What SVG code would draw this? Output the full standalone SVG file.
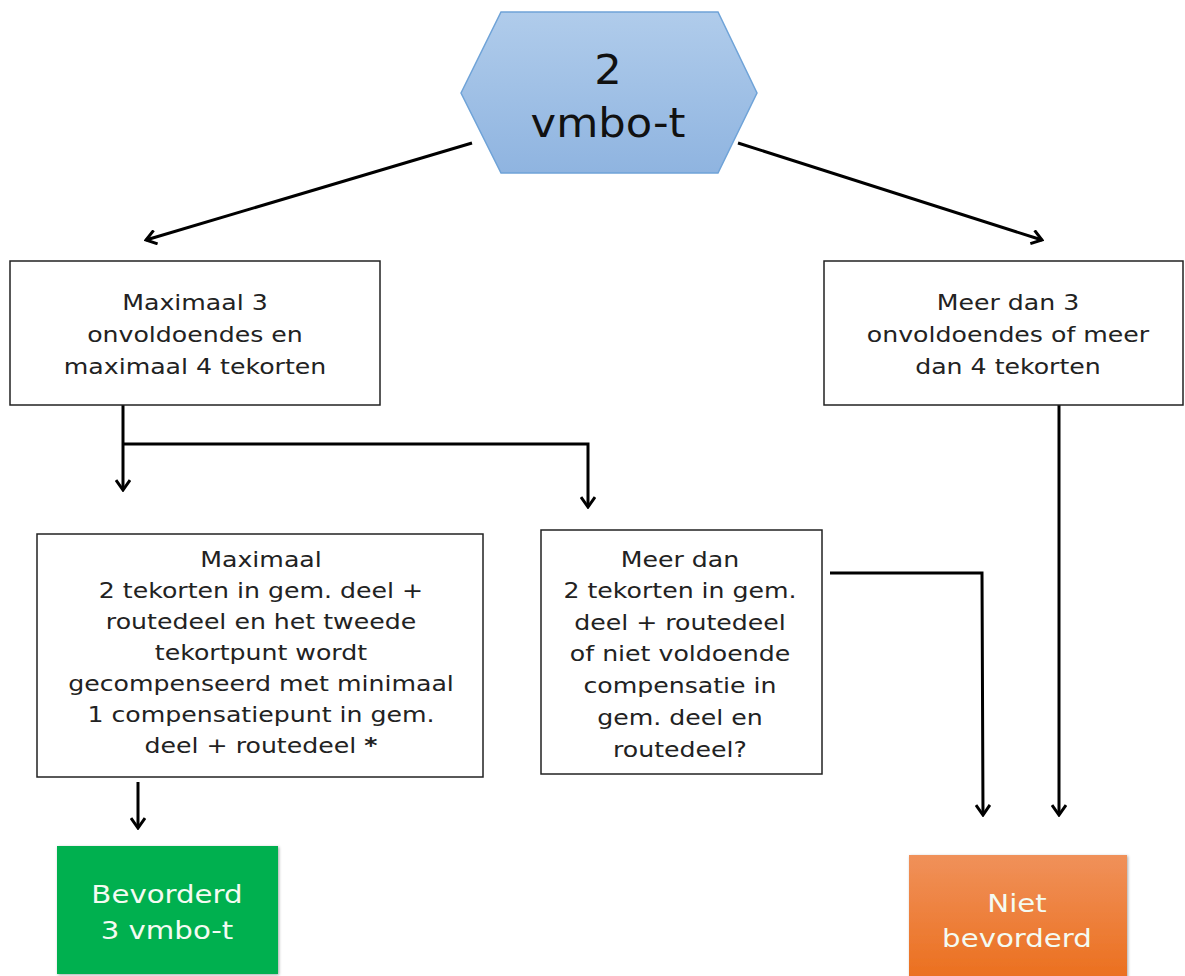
<svg xmlns="http://www.w3.org/2000/svg" width="1185" height="976" viewBox="0 0 1185 976">
<defs>
<linearGradient id="gHex" x1="0" y1="0" x2="0" y2="1">
<stop offset="0" stop-color="#b0cceb"/>
<stop offset="1" stop-color="#8fb4e0"/>
</linearGradient>
<linearGradient id="gOrange" x1="0" y1="0" x2="0" y2="1">
<stop offset="0" stop-color="#f0915a"/>
<stop offset="1" stop-color="#eb6f1e"/>
</linearGradient>
<filter id="sh" x="-10%" y="-10%" width="120%" height="120%">
<feDropShadow dx="1" dy="1" stdDeviation="1.5" flood-color="#000" flood-opacity="0.35"/>
</filter>
<marker id="arr" viewBox="-12 -8 14 16" markerWidth="14" markerHeight="16" refX="0" refY="0" orient="auto" markerUnits="userSpaceOnUse">
<path d="M-10,-7 L0,0 L-10,7" fill="none" stroke="#000" stroke-width="3" stroke-linejoin="miter"/>
</marker>
<style>
.box{fill:#fff;stroke:#222;stroke-width:1.5}
.t{font-family:"DejaVu Sans","Verdana",sans-serif;font-size:21px;fill:#222;text-anchor:middle}
.tw{font-family:"DejaVu Sans","Verdana",sans-serif;font-size:25px;fill:#f4fbf2;text-anchor:middle}
.th{font-family:"DejaVu Sans","Verdana",sans-serif;font-size:40px;fill:#111;text-anchor:middle}
.c{fill:none;stroke:#000;stroke-width:3}
</style>
</defs>
<rect width="1185" height="976" fill="#fff"/>

<g id="connectors">
<line class="c" x1="472" y1="143" x2="146" y2="240" marker-end="url(#arr)"/>
<line class="c" x1="738" y1="143" x2="1042" y2="240" marker-end="url(#arr)"/>
<line class="c" x1="123" y1="405" x2="123" y2="490" marker-end="url(#arr)"/>
<polyline class="c" points="123,444 588,444 588,507" marker-end="url(#arr)"/>
<line class="c" x1="138" y1="782" x2="138" y2="828" marker-end="url(#arr)"/>
<polyline class="c" points="830,573 982,573 983,815" marker-end="url(#arr)"/>
<line class="c" x1="1059" y1="405" x2="1059" y2="815" marker-end="url(#arr)"/>
</g>

<g id="start">
<polygon points="461,93 501,12 718,12 757,93 718,173 501,173" fill="url(#gHex)" stroke="#6fa3d8" stroke-width="1.5"/>
<g transform="translate(608,0) scale(1.08,1)">
<text class="th" x="0" y="84">2</text>
<text class="th" x="0" y="137">vmbo-t</text>
</g>
</g>

<g id="box1">
<rect class="box" x="10" y="261" width="370" height="144"/>
<g transform="translate(195,0) scale(1.2,1)">
<text class="t" x="0" y="310">Maximaal 3</text>
<text class="t" x="0" y="342">onvoldoendes en</text>
<text class="t" x="0" y="374">maximaal 4 tekorten</text>
</g>
</g>

<g id="box2">
<rect class="box" x="824" y="261" width="359" height="144"/>
<g transform="translate(1008,0) scale(1.2,1)">
<text class="t" x="0" y="310">Meer dan 3</text>
<text class="t" x="0" y="342">onvoldoendes of meer</text>
<text class="t" x="0" y="374">dan 4 tekorten</text>
</g>
</g>

<g id="box3">
<rect class="box" x="37" y="534" width="446" height="243"/>
<g transform="translate(261,0) scale(1.2,1)">
<text class="t" x="0" y="567">Maximaal</text>
<text class="t" x="0" y="598">2 tekorten in gem. deel +</text>
<text class="t" x="0" y="629">routedeel en het tweede</text>
<text class="t" x="0" y="660">tekortpunt wordt</text>
<text class="t" x="0" y="691">gecompenseerd met minimaal</text>
<text class="t" x="0" y="722">1 compensatiepunt in gem.</text>
<text class="t" x="0" y="753">deel + routedeel <tspan font-weight="bold">*</tspan></text>
</g>
</g>

<g id="box4">
<rect class="box" x="541" y="530" width="281" height="244"/>
<g transform="translate(680,0) scale(1.2,1)">
<text class="t" x="0" y="567">Meer dan</text>
<text class="t" x="0" y="598">2 tekorten in gem.</text>
<text class="t" x="0" y="630">deel + routedeel</text>
<text class="t" x="0" y="661">of niet voldoende</text>
<text class="t" x="0" y="693">compensatie in</text>
<text class="t" x="0" y="725">gem. deel en</text>
<text class="t" x="0" y="757">routedeel?</text>
</g>
</g>

<g id="bevorderd">
<rect x="57" y="846" width="221" height="128" fill="#00b050" filter="url(#sh)"/>
<g transform="translate(167,0) scale(1.17,1)">
<text class="tw" x="0" y="903">Bevorderd</text>
<text class="tw" x="0" y="939">3 vmbo-t</text>
</g>
</g>

<g id="nietbevorderd">
<rect x="909" y="855" width="218" height="125" fill="url(#gOrange)" filter="url(#sh)"/>
<g transform="translate(1017,0) scale(1.17,1)">
<text class="tw" x="0" y="912">Niet</text>
<text class="tw" x="0" y="947">bevorderd</text>
</g>
</g>
</svg>
